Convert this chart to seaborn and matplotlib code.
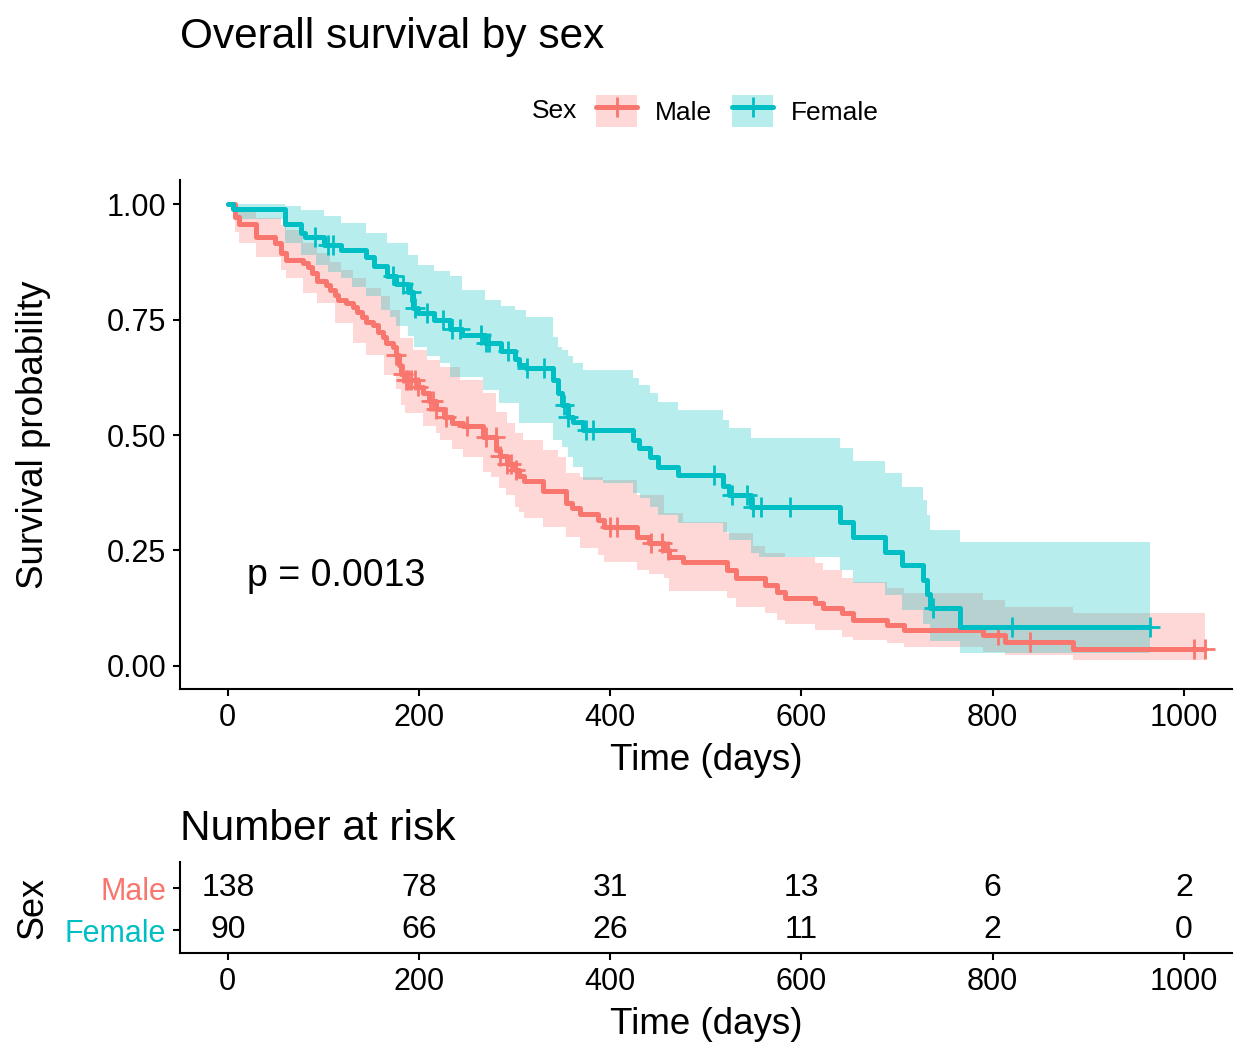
import numpy as np
import pandas as pd
import matplotlib
matplotlib.use('Agg')
import matplotlib.pyplot as plt
from matplotlib.patches import Patch
from matplotlib.lines import Line2D
import seaborn as sns

# Kaplan-Meier steps (time in days, survival after the step)
male_time = [0, 8, 12, 30, 49, 56, 61, 79, 84, 88, 93, 103, 107, 112, 115, 124, 131, 135, 140, 145,
             152, 157, 162, 166, 173, 176, 179, 181, 185, 199, 204, 210, 218, 226, 235, 246, 267, 281,
             285, 292, 300, 305, 310, 330, 354, 360, 368, 387, 393, 428, 441, 456, 461, 476, 522, 532,
             562, 574, 583, 614, 623, 642, 654, 689, 707, 790, 813, 884]
male_surv = [1.0, .971, .957, .928, .916, .894, .879, .872, .864, .851, .833, .825, .814, .803, .792,
             .786, .778, .767, .756, .745, .738, .724, .713, .699, .691, .673, .652, .633, .619, .605,
             .59, .574, .556, .539, .527, .519, .496, .468, .455, .437, .424, .412, .401, .378, .353,
             .342, .33, .316, .301, .279, .266, .25, .236, .225, .208, .19, .175, .16, .147, .136, .125,
             .114, .1, .089, .078, .067, .052, .037]
male_end = 1022
male_censor = [176, 183, 186, 188, 192, 196, 199, 212, 215, 218, 228, 250, 270, 280, 285, 292, 296,
               301, 400, 407, 443, 454, 460, 805, 839, 1010, 1022]

female_time = [0, 5, 60, 77, 81, 101, 118, 145, 153, 167, 176, 188, 194, 199, 216, 232, 245, 269, 286,
               300, 305, 312, 340, 345, 350, 356, 361, 371, 424, 430, 442, 450, 471, 518, 524, 547, 640,
               654, 687, 705, 727, 731, 734, 766]
female_surv = [1.0, .989, .956, .937, .929, .912, .9, .885, .866, .845, .826, .81, .775, .764, .749,
               .729, .716, .7, .682, .664, .652, .645, .619, .591, .565, .539, .528, .511, .489, .472,
               .452, .431, .413, .39, .37, .344, .312, .279, .247, .219, .186, .156, .126, .084]
female_end = 965
female_censor = [91, 105, 110, 173, 183, 192, 196, 208, 225, 235, 243, 265, 270, 273, 293, 313, 331,
                 352, 356, 375, 382, 509, 527, 543, 549, 558, 588, 738, 820, 965]

# confidence bands
male_up_time = [0, 8, 12, 30, 56, 61, 79, 93, 107, 118, 131, 145, 160, 170, 180, 194, 208, 222, 243,
                267, 281, 292, 300, 309, 330, 345, 354, 368, 392, 428, 456, 476, 522, 549, 562, 583,
                614, 623, 642, 654, 689, 707, 790, 813, 884]
male_up = [1.0, .995, .985, .97, .955, .944, .916, .894, .874, .857, .84, .818, .8, .771, .71, .684,
           .662, .647, .619, .59, .55, .526, .504, .489, .468, .453, .418, .41, .403, .37, .331, .312,
           .288, .26, .245, .236, .222, .208, .19, .182, .168, .158, .143, .128, .115]
male_lo_time = [0, 8, 12, 30, 56, 61, 79, 93, 112, 131, 145, 163, 176, 181, 185, 204, 218, 222, 235,
                246, 267, 275, 284, 291, 300, 305, 310, 330, 354, 368, 387, 393, 428, 441, 456, 461,
                522, 532, 562, 574, 583, 614, 642, 654, 689, 707, 790, 813, 884]
male_lo = [1.0, .94, .916, .885, .857, .84, .807, .785, .742, .7, .673, .63, .6, .565, .548, .52, .505,
           .489, .47, .453, .42, .41, .385, .37, .345, .333, .32, .3, .279, .255, .24, .225, .208, .2,
           .19, .162, .147, .128, .115, .1, .09, .078, .063, .056, .05, .041, .03, .024, .013]

female_up_time = [0, 60, 77, 101, 118, 145, 167, 188, 199, 216, 232, 245, 269, 286, 300, 312, 340, 345,
                  350, 356, 361, 371, 424, 430, 442, 450, 471, 518, 524, 547, 640, 654, 687, 705, 727,
                  731, 734, 766]
female_up = [1.0, .995, .987, .975, .96, .937, .916, .89, .868, .855, .844, .814, .792, .78, .771, .755,
             .712, .69, .684, .67, .656, .641, .623, .608, .591, .571, .554, .532, .515, .494, .472,
             .444, .418, .388, .359, .327, .294, .268]
female_lo_time = [0, 5, 60, 77, 92, 105, 118, 130, 145, 160, 170, 176, 188, 195, 208, 222, 232, 267, 284,
                  305, 340, 350, 356, 361, 371, 392, 424, 431, 442, 450, 471, 518, 524, 547, 556, 640,
                  654, 687, 705, 727, 734, 766]
female_lo = [1.0, .968, .916, .89, .868, .853, .84, .82, .8, .771, .755, .735, .715, .69, .672, .656,
             .626, .597, .569, .526, .489, .474, .452, .431, .403, .396, .374, .364, .344, .327, .31,
             .29, .273, .245, .236, .208, .18, .154, .121, .09, .055, .028]

risk_times = [0, 200, 400, 600, 800, 1000]
risk_male = [138, 78, 31, 13, 6, 2]
risk_female = [90, 66, 26, 11, 2, 0]

colors = {'Male': '#F8766D', 'Female': '#00BFC4'}

sns.set_style('ticks')
plt.rcParams['font.family'] = ['Liberation Sans', 'DejaVu Sans']
plt.rcParams.update({'text.color': 'black', 'axes.labelcolor': 'black', 'axes.edgecolor': 'black',
                     'xtick.color': 'black', 'ytick.color': 'black'})


def step_at(t, times, vals):
    idx = np.searchsorted(times, t, side='right') - 1
    return np.asarray(vals)[idx]


groups = {
    'Male': (male_time, male_surv, male_end, male_censor, male_up_time, male_up, male_lo_time, male_lo),
    'Female': (female_time, female_surv, female_end, female_censor, female_up_time, female_up,
               female_lo_time, female_lo),
}

curve_rows, cens_rows = [], []
for sex, (t, s, end, cens, _, _, _, _) in groups.items():
    for ti, si in zip(list(t) + [end], list(s) + [s[-1]]):
        curve_rows.append({'time': ti, 'surv': si, 'sex': sex})
    for c in cens:
        cens_rows.append({'time': c, 'surv': step_at(c, t, s), 'sex': sex})
curves = pd.DataFrame(curve_rows)
censored = pd.DataFrame(cens_rows)

fig = plt.figure(figsize=(12.48, 10.56), dpi=100)
ax = fig.add_axes([0.1442, 0.3475, 0.8428, 0.482])

for sex, (t, s, end, cens, ut, uv, lt, lv) in groups.items():
    grid = np.union1d(np.union1d(ut, lt), [end])
    ax.fill_between(grid, step_at(grid, lt, lv), step_at(grid, ut, uv), step='post',
                    color=colors[sex], alpha=0.28, linewidth=0)

sns.lineplot(data=curves, x='time', y='surv', hue='sex', palette=colors, drawstyle='steps-post',
             estimator=None, linewidth=3.6, legend=False, ax=ax)
sns.scatterplot(data=censored, x='time', y='surv', hue='sex', palette=colors, marker='+', s=200,
                linewidth=2, legend=False, ax=ax)

ax.set_xlim(-50, 1050)
ax.set_ylim(-0.05, 1.052)
ax.set_xticks(risk_times)
ax.set_yticks([0, 0.25, 0.5, 0.75, 1.0])
ax.set_yticklabels(['0.00', '0.25', '0.50', '0.75', '1.00'])
ax.set_xlabel('Time (days)', fontsize=26.5, labelpad=7)
ax.set_ylabel('Survival probability', fontsize=26.5, labelpad=40)
ax.text(20, 0.195, 'p = 0.0013', fontsize=27, va='center', ha='left')
sns.despine(ax=ax)
for sp in ['left', 'bottom']:
    ax.spines[sp].set_linewidth(1.5)
ax.tick_params(labelsize=22, length=5, width=1.5, color='black', labelcolor='black', pad=5)

fig.text(180 / 1248, 1 - 48 / 1056, 'Overall survival by sex', fontsize=30.5, va='baseline', ha='left')

# legend
handles = [(Patch(facecolor=colors[k], alpha=0.28, linewidth=0),
            Line2D([], [], color=colors[k], lw=3.6, marker='+', markersize=14, mew=2))
           for k in ['Male', 'Female']]
fig.legend(handles, ['Male', 'Female'], loc='center', bbox_to_anchor=(0.591, 1 - 111 / 1056),
           ncol=2, frameon=False, fontsize=19, handlelength=1.55, handleheight=1.5,
           handletextpad=0.68, columnspacing=0.76)
fig.text(532 / 1248, 1 - 111 / 1056, 'Sex', fontsize=19, va='center', ha='left')

# risk table
rax = fig.add_axes([0.1442, 0.0975, 0.8428, 0.0862])
for x, m, f in zip(risk_times, risk_male, risk_female):
    rax.text(x, 2, str(m), fontsize=23, ha='center', va='center')
    rax.text(x, 1, str(f), fontsize=23, ha='center', va='center')
rax.set_xlim(-50, 1050)
rax.set_ylim(0.452, 2.62)
rax.set_xticks(risk_times)
rax.set_yticks([1, 2])
rax.set_yticklabels(['Female', 'Male'])
for lab, k in zip(rax.get_yticklabels(), ['Female', 'Male']):
    lab.set_color(colors[k])
rax.set_xlabel('Time (days)', fontsize=26.5, labelpad=7)
rax.set_ylabel('Sex', fontsize=26, labelpad=10)
rax.set_title('Number at risk', loc='left', fontsize=30.5, pad=16)
sns.despine(ax=rax)
for sp in ['left', 'bottom']:
    rax.spines[sp].set_linewidth(1.5)
rax.tick_params(labelsize=22, length=5, width=1.5, color='black', pad=5)
rax.tick_params(axis='x', labelcolor='black')

fig.savefig('out.png', dpi=100)
